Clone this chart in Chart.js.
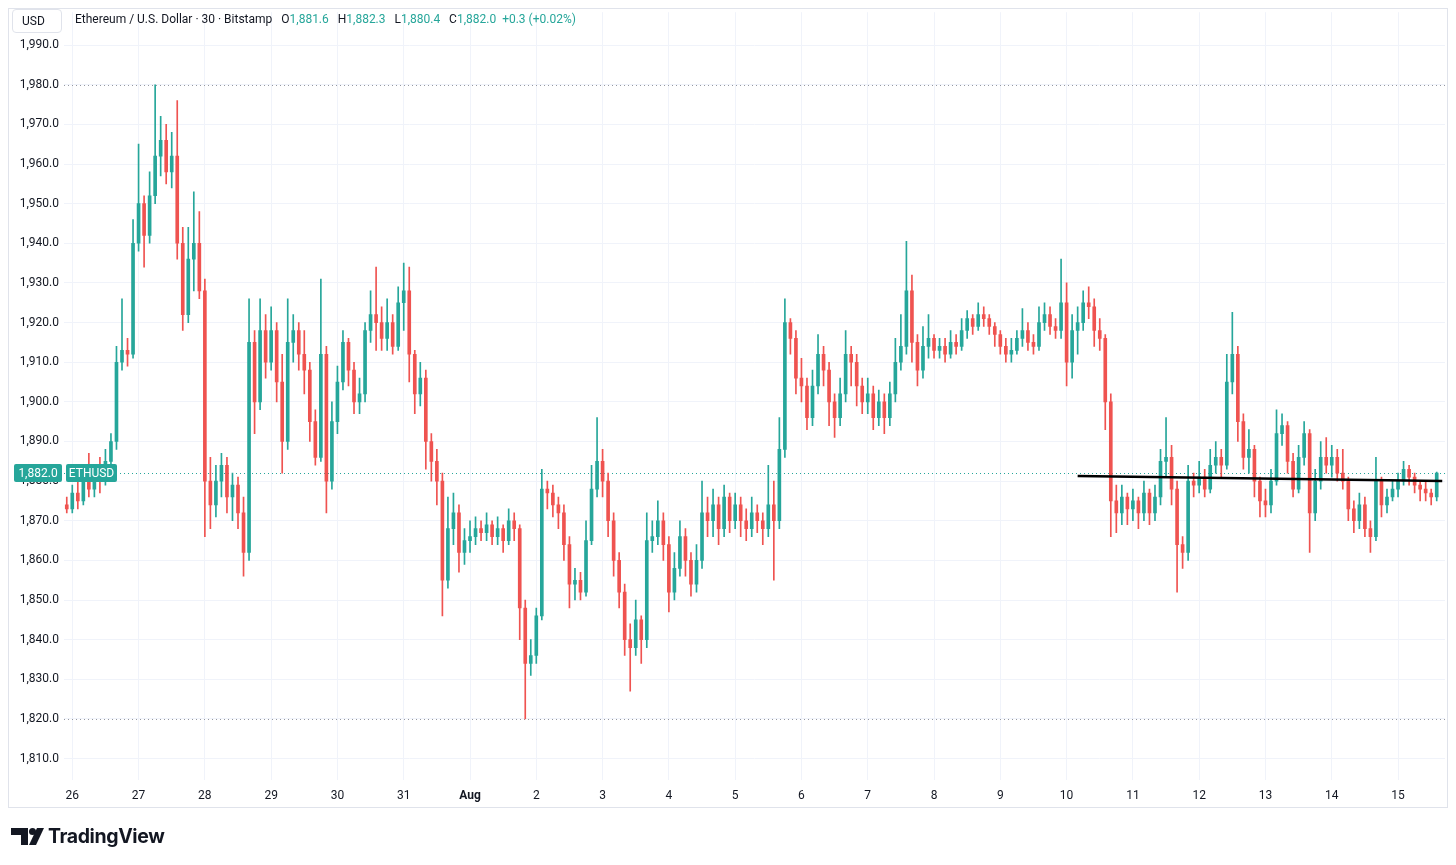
<!DOCTYPE html>
<html>
<head>
<meta charset="utf-8">
<title>Ethereum / U.S. Dollar - 30 - Bitstamp</title>
<script src="https://cdn.jsdelivr.net/npm/chart.js@4.4.0/dist/chart.umd.min.js"></script>
<style>
  html, body { margin: 0; padding: 0; background: #fff; }
  body { width: 1456px; height: 865px; position: relative; overflow: hidden;
         font-family: Roboto, "DejaVu Sans", sans-serif; color: #131722; }
  #chart { position: absolute; left: 0; top: 0; }
  .frame { position: absolute; left: 8px; top: 8px; width: 1440px; height: 800px;
           border: 1px solid #e0e3eb; box-sizing: border-box; pointer-events: none; }
  .usd { position: absolute; left: 12px; top: 9px; width: 50px; height: 24px; box-sizing: border-box;
         border: 1px solid #e0e3eb; border-radius: 4px; background: #fff;
         font-size: 12px; line-height: 22px; padding-left: 9px; }
  .legend { position: absolute; left: 75px; top: 12px; font-size: 12px; line-height: 14px; white-space: pre; }
  .legend .v { color: #26a69a; }
  .brand { position: absolute; left: 48px; top: 824px; font-family: Inter, Roboto, sans-serif;
           font-weight: 700; font-size: 19.5px; letter-spacing: -0.4px; color: #131722; }
  .logo { position: absolute; left: 11px; top: 827px; }
</style>
</head>
<body>
<canvas id="chart" width="1456" height="865"></canvas>
<div class="frame"></div>
<div class="usd">USD</div>
<div class="legend">Ethereum / U.S. Dollar · 30 · Bitstamp   O<span class="v">1,881.6</span>   H<span class="v">1,882.3</span>   L<span class="v">1,880.4</span>   C<span class="v">1,882.0</span>  <span class="v">+0.3 (+0.02%)</span></div>
<svg class="logo" width="34" height="20" viewBox="0 0 34 20">
  <path d="M0 1 H17 V18 H10 V8 H0 Z" fill="#131722"/>
  <circle cx="21.5" cy="4.5" r="3.5" fill="#131722"/>
  <path d="M26 1 H33 L25 18 H18 Z" fill="#131722"/>
</svg>
<div class="brand">TradingView</div>

<script>
// 2-hour candles, Jul 25 22:00 -> Aug 15 14:00 (one row per day)
var opens = [1874,
  1873,1877,1875,1880,1878,1882,1880,1885,1890,1910,1913,1912,
  1940,1950,1942,1952,1962,1966,1958,1962,1940,1922,1936,1940,
  1928,1880,1874,1880,1884,1876,1879,1872,1862,1915,1900,1918,
  1910,1918,1905,1890,1915,1918,1912,1908,1895,1886,1912,1880,
  1895,1905,1915,1908,1900,1902,1918,1922,1920,1916,1920,1914,
  1925,1928,1912,1902,1906,1890,1885,1880,1855,1868,1872,1862,
  1865,1866,1868,1867,1869,1866,1868,1865,1870,1868,1848,1834,
  1836,1846,1878,1877,1874,1872,1864,1854,1855,1852,1865,1878,
  1885,1880,1870,1860,1852,1840,1838,1845,1840,1865,1866,1870,
  1864,1852,1858,1866,1860,1854,1860,1872,1870,1874,1868,1876,
  1870,1874,1870,1868,1872,1870,1868,1874,1870,1888,1920,1916,
  1906,1904,1896,1904,1912,1908,1900,1896,1902,1912,1910,1904,
  1900,1902,1896,1900,1896,1902,1910,1914,1928,1915,1908,1914,
  1916,1913,1914,1912,1915,1914,1918,1921,1919,1922,1921,1919,
  1917,1914,1912,1913,1916,1918,1915,1914,1920,1922,1919,1918,
  1925,1910,1918,1920,1925,1924,1918,1916,1900,1875,1872,1876,
  1873,1875,1872,1877,1872,1876,1885,1886,1878,1864,1862,1880,
  1879,1881,1878,1884,1886,1884,1905,1912,1895,1886,1888,1880,
  1875,1874,1880,1892,1894,1885,1878,1886,1892,1872,1880,1886,
  1884,1886,1882,1880,1873,1870,1874,1868,1866,1880,1874,1876,
  1878,1880,1883,1881,1879,1878,1877,1876];
var highs = [1876,
  1879,1880,1883,1887,1884,1886,1888,1892,1914,1926,1916,1946,
  1965,1952,1958,1980,1972,1970,1968,1976,1944,1944,1953,1948,
  1931,1886,1884,1887,1886,1882,1881,1876,1926,1918,1926,1922,
  1924,1920,1912,1926,1922,1920,1918,1910,1898,1931,1914,1900,
  1909,1918,1916,1910,1906,1920,1928,1934,1924,1926,1922,1929,
  1935,1934,1913,1910,1908,1892,1888,1882,1876,1877,1874,1868,
  1870,1871,1870,1872,1870,1871,1869,1873,1872,1869,1850,1840,
  1848,1883,1880,1879,1876,1874,1866,1858,1857,1870,1884,1896,
  1888,1882,1872,1862,1854,1844,1850,1846,1872,1870,1875,1872,
  1866,1862,1870,1868,1862,1864,1880,1876,1878,1876,1879,1877,
  1877,1876,1873,1876,1874,1872,1884,1880,1896,1926,1921,1918,
  1911,1906,1908,1917,1914,1910,1902,1906,1918,1914,1912,1906,
  1906,1904,1903,1902,1905,1916,1922,1940.5,1932,1917,1919,1922,
  1917,1916,1916,1918,1917,1921,1923,1922,1925,1924,1922,1920,
  1918,1916,1916,1918,1923.5,1920,1917,1924,1925,1924,1921,1936,
  1930,1922,1924,1928,1929,1926,1921,1917,1902,1879,1879,1877,
  1878,1876,1880,1878,1879,1888,1896,1889,1880,1866,1884,1882,
  1885,1883,1888,1890,1888,1912,1922.6,1914,1897,1893,1889,1881,
  1878,1883,1898,1897,1895,1887,1889,1895,1893,1883,1890,1891,
  1889,1888,1888,1881,1875,1877,1876,1870,1886,1881,1878,1880,
  1882,1885,1884,1882,1880,1880,1878,1882.3];
var lows = [1872,
  1872,1873,1874,1876,1876,1877,1879,1883,1888,1908,1909,1911,
  1938,1934,1940,1950,1957,1955,1954,1936,1918,1920,1928,1926,
  1866,1868,1871,1876,1872,1870,1868,1856,1860,1892,1898,1906,
  1908,1900,1882,1888,1910,1908,1902,1890,1884,1885,1872,1878,
  1892,1903,1904,1897,1897,1900,1915,1913,1913,1913,1912,1913,
  1918,1905,1897,1899,1883,1880,1874,1846,1853,1864,1857,1859,
  1862,1864,1865,1865,1864,1864,1862,1864,1865,1840,1820,1831,
  1834,1845,1873,1871,1868,1860,1848,1850,1850,1851,1864,1876,
  1876,1866,1856,1848,1836,1827,1836,1834,1838,1862,1864,1860,
  1847,1850,1856,1856,1851,1852,1858,1866,1866,1864,1866,1867,
  1868,1866,1865,1866,1867,1864,1866,1855,1868,1886,1912,1902,
  1900,1893,1894,1902,1904,1894,1891,1894,1900,1904,1899,1897,
  1897,1893,1894,1892,1894,1900,1908,1912,1910,1904,1906,1911,
  1911,1911,1910,1911,1912,1913,1916,1917,1918,1919,1917,1914,
  1912,1910,1910,1912,1914,1913,1912,1913,1918,1917,1916,1916,
  1904,1906,1912,1918,1921,1914,1913,1893,1866,1867,1869,1869,
  1870,1868,1870,1869,1870,1874,1881,1874,1852,1858,1860,1876,
  1877,1876,1877,1882,1881,1883,1902,1890,1883,1882,1876,1871,
  1871,1872,1879,1889,1882,1876,1877,1884,1862,1870,1878,1882,
  1881,1880,1878,1870,1867,1868,1866,1862,1865,1871,1872,1875,
  1876,1879,1879,1877,1875,1875,1874,1875];
var closes = [1873,
  1877,1875,1880,1878,1882,1880,1885,1890,1910,1913,1912,1940,
  1950,1942,1952,1962,1966,1958,1962,1940,1922,1936,1940,1928,
  1880,1874,1880,1884,1876,1879,1872,1862,1915,1900,1918,1910,
  1918,1905,1890,1915,1918,1912,1908,1895,1886,1912,1880,1895,
  1905,1915,1908,1900,1902,1918,1922,1920,1916,1920,1914,1925,
  1928,1912,1902,1906,1890,1885,1880,1855,1868,1872,1862,1865,
  1866,1868,1867,1869,1866,1868,1865,1870,1868,1848,1834,1836,
  1846,1878,1877,1874,1872,1864,1854,1855,1852,1865,1878,1885,
  1880,1870,1860,1852,1840,1838,1845,1840,1865,1866,1870,1864,
  1852,1858,1866,1860,1854,1860,1872,1870,1874,1868,1876,1870,
  1874,1870,1868,1872,1870,1868,1874,1870,1888,1920,1916,1906,
  1904,1896,1904,1912,1908,1900,1896,1902,1912,1910,1904,1900,
  1902,1896,1900,1896,1902,1910,1914,1928,1915,1908,1914,1916,
  1913,1914,1912,1915,1914,1918,1921,1919,1922,1921,1919,1917,
  1914,1912,1913,1916,1918,1915,1914,1920,1922,1919,1918,1925,
  1910,1918,1920,1925,1924,1918,1916,1900,1875,1872,1876,1873,
  1875,1872,1877,1872,1876,1885,1886,1878,1864,1862,1880,1879,
  1881,1878,1884,1886,1884,1905,1912,1895,1886,1888,1880,1875,
  1874,1880,1892,1894,1885,1878,1886,1892,1872,1880,1886,1884,
  1886,1882,1880,1873,1870,1874,1868,1866,1880,1874,1876,1878,
  1880,1883,1881,1879,1878,1877,1876,1882];

// day labels on the time axis (first one is Jul 26)
var dayTicks = ["26","27","28","29","30","31","Aug","2","3","4","5","6","7","8","9","10","11","12","13","14","15"];
// drawn trend line: candle index and price at each end
var trendIdx = [183, 249];
var trendVals = [1881.3, 1880.0];
var lastPrice = 1882.0;
var rangeHigh = 1980;
var rangeLow = 1820;

var UP = "#26a69a", DOWN = "#ef5350";

var main = function () {
    "use strict";
    Chart.defaults.font.family = "Roboto, 'DejaVu Sans', sans-serif";
    Chart.defaults.font.size = 12;
    Chart.defaults.color = "#131722";

    //Categories: one per candle plus one spare slot at the right edge
    var labels = [];
    var t0 = Date.UTC(2023, 6, 25, 22);
    for (var i = 0; i <= closes.length; i++) {
        labels.push(new Date(t0 + i * 2 * 3600 * 1000).toISOString().slice(0, 16));
    }
    var wicks = [], bodies = [], colors = [];
    closes.forEach(function (c, i) {
        wicks.push([lows[i], highs[i]]);
        bodies.push([opens[i], c]);
        colors.push(c >= opens[i] ? UP : DOWN);
    });
    var trend = labels.map(function () { return null; });
    trendIdx.forEach(function (k, j) { trend[k] = trendVals[j]; });

    //Dotted price lines and the last-price badges
    var priceLines = {
        id: "priceLines",
        beforeDatasetsDraw: function (chart) {
            var ctx = chart.ctx, a = chart.chartArea, y = chart.scales.y;
            ctx.save();
            ctx.lineWidth = 1;
            ctx.setLineDash([1, 3]);
            [[rangeHigh, "#9598a1"], [rangeLow, "#9598a1"], [lastPrice, UP]].forEach(function (p) {
                var py = Math.round(y.getPixelForValue(p[0])) + 0.5;
                ctx.strokeStyle = p[1];
                ctx.beginPath();
                ctx.moveTo(a.left, py);
                ctx.lineTo(a.right, py);
                ctx.stroke();
            });
            ctx.restore();
        },
        afterDraw: function (chart) {
            var ctx = chart.ctx, y = chart.scales.y;
            var py = Math.round(y.getPixelForValue(lastPrice));
            ctx.save();
            ctx.fillStyle = UP;
            ctx.beginPath(); ctx.roundRect(14, py - 9, 48, 18, 2); ctx.fill();
            ctx.beginPath(); ctx.roundRect(66, py - 9, 51, 18, 2); ctx.fill();
            ctx.fillStyle = "#fff";
            ctx.font = "12px Roboto, sans-serif";
            ctx.textAlign = "center";
            ctx.textBaseline = "middle";
            ctx.fillText(lastPrice.toLocaleString("en-US", {minimumFractionDigits: 1}), 38, py + 1);
            ctx.fillText("ETHUSD", 91.5, py + 1);
            ctx.restore();
        }
    };

    new Chart(document.getElementById("chart"), {
        type: "bar",
        data: {
            labels: labels,
            datasets: [
                {type: "line", data: trend, borderColor: "#000", borderWidth: 2.5,
                 pointRadius: 0, spanGaps: true, order: 0},
                {data: bodies, backgroundColor: colors, barThickness: 3, minBarLength: 1,
                 grouped: false, borderWidth: 0, order: 1},
                {data: wicks, backgroundColor: colors, barThickness: 1,
                 grouped: false, borderWidth: 0, order: 2}
            ]
        },
        options: {
            responsive: false,
            animation: false,
            events: [],
            layout: {padding: {left: 9, top: 6, right: 11, bottom: 55}},
            plugins: {legend: {display: false}, tooltip: {enabled: false}},
            scales: {
                x: {
                    offset: true,
                    grid: {offset: false, color: "#f0f3fa", drawTicks: false},
                    border: {display: false},
                    ticks: {
                        autoSkip: false, maxRotation: 0, padding: 9,
                        font: function (c) {
                            return {size: 12, weight: (c.tick && c.tick.label === "Aug") ? "bold" : "normal"};
                        },
                        callback: function (v, i) {
                            if (i >= 1 && (i - 1) % 12 === 0) { return dayTicks[(i - 1) / 12]; }
                            return null;
                        }
                    },
                    afterFit: function (s) { s.height = 30; }
                },
                y: {
                    position: "left",
                    min: 1804.6, max: 1998.3,
                    grid: {color: "#f0f3fa", drawTicks: false},
                    border: {display: false},
                    ticks: {
                        stepSize: 10, includeBounds: false, padding: 5,
                        callback: function (v) {
                            return v.toLocaleString("en-US", {minimumFractionDigits: 1, maximumFractionDigits: 1});
                        }
                    },
                    afterFit: function (s) { s.width = 55; }
                }
            }
        },
        plugins: [priceLines]
    });
};

main();
</script>
</body>
</html>
